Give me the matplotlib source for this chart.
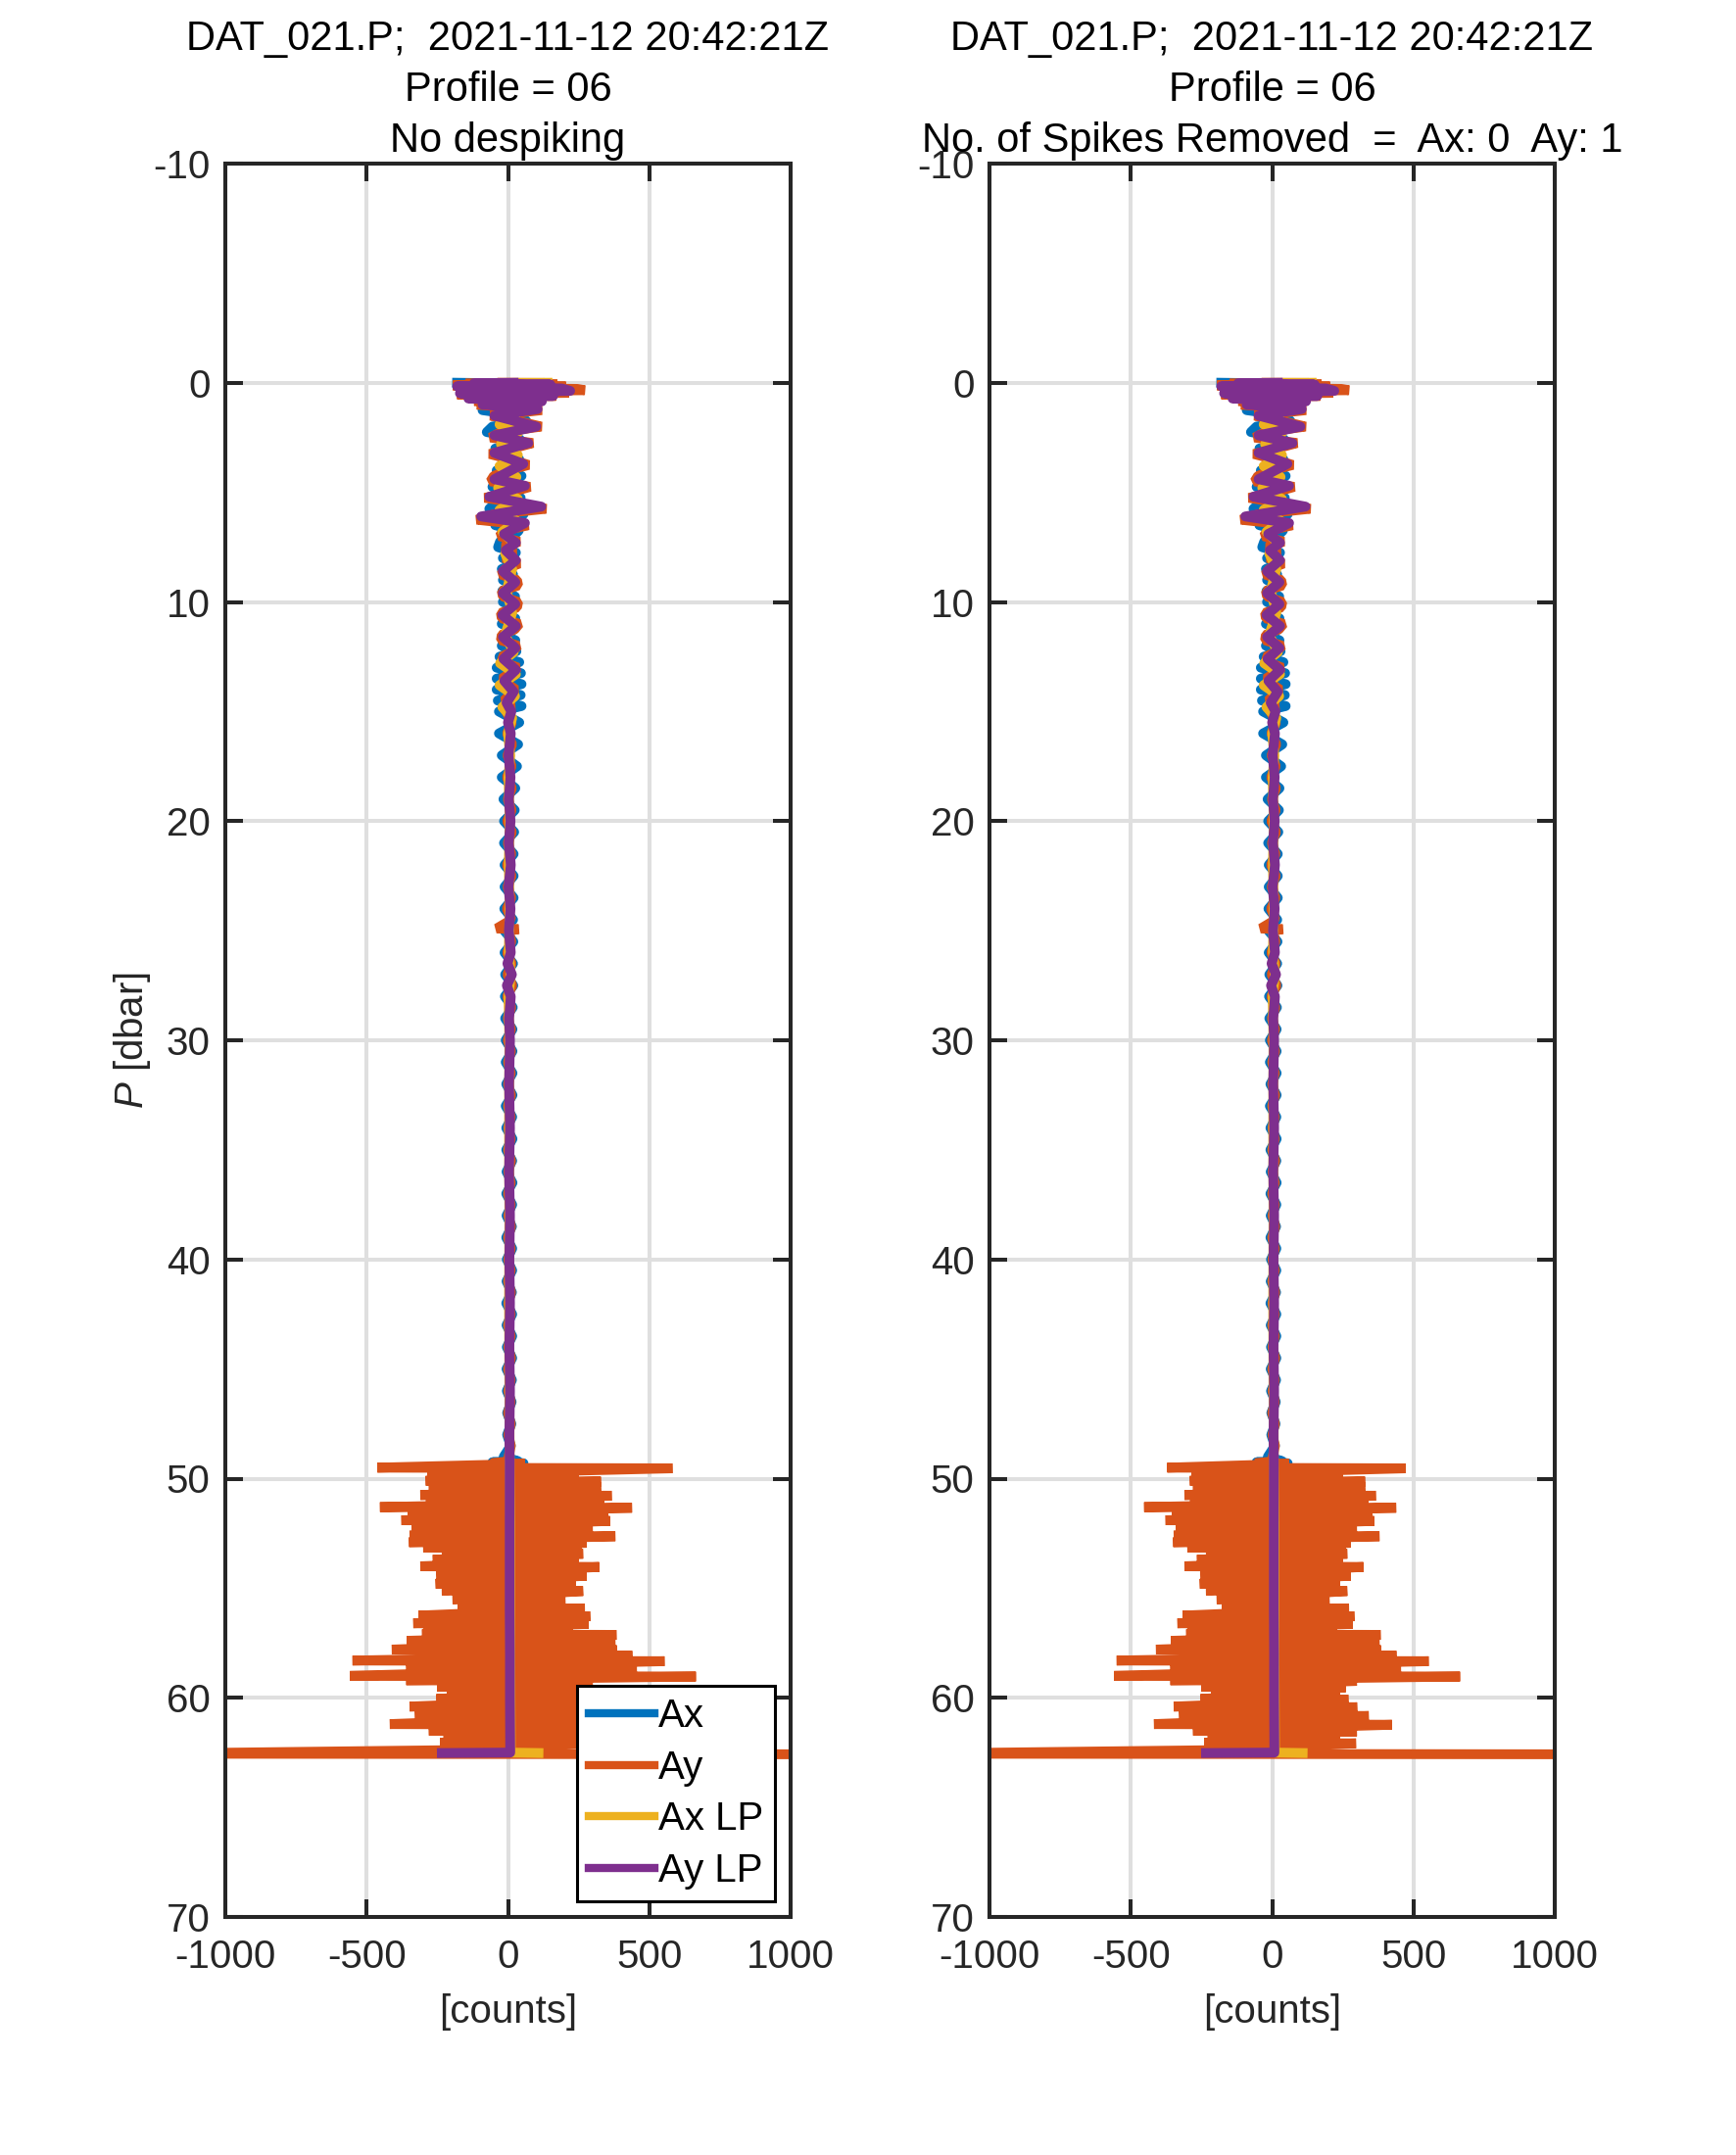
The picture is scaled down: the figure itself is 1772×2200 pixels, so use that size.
import numpy as np
import matplotlib.pyplot as plt

plt.rcParams['font.family'] = ['Liberation Sans', 'DejaVu Sans']
plt.rcParams['mathtext.fontset'] = 'custom'
plt.rcParams['mathtext.it'] = 'Liberation Sans:italic'
plt.rcParams['mathtext.rm'] = 'Liberation Sans'
plt.rcParams['axes.unicode_minus'] = False

# ---- data (pressure in dbar, acceleration in counts) ----

# shared depth grids for the raw Ax / Ay traces
p_fine = [1.0, 1.25, 1.5, 1.75, 2.0, 2.25, 2.5, 2.75,
          3.0, 3.25, 3.5, 3.75, 4.0, 4.25, 4.5, 4.75,
          5.0, 5.25, 5.5, 5.75, 6.0, 6.25, 6.5, 6.75,
          7.0, 7.25, 7.5, 7.75, 8.0, 8.25, 8.5, 8.75,
          9.0, 9.25, 9.5, 9.75, 10.0, 10.25, 10.5, 10.75,
          11.0, 11.25, 11.5, 11.75, 12.0, 12.25, 12.5, 12.75,
          13.0, 13.25, 13.5, 13.75, 14.0, 14.25, 14.5, 14.75,
          15.0]
p_coarse = [15.5, 16.0, 16.5, 17.0, 17.5, 18.0, 18.5, 19.0,
            19.5, 20.0, 20.5, 21.0, 21.5, 22.0, 22.5, 23.0,
            23.5, 24.0, 24.5, 25.0, 25.5, 26.0, 26.5, 27.0,
            27.5, 28.0, 28.5, 29.0, 29.5, 30.0, 30.5, 31.0,
            31.5, 32.0, 32.5, 33.0, 33.5, 34.0, 34.5, 35.0,
            35.5, 36.0, 36.5, 37.0, 37.5, 38.0, 38.5, 39.0,
            39.5, 40.0, 40.5, 41.0, 41.5, 42.0, 42.5, 43.0,
            43.5, 44.0, 44.5, 45.0, 45.5, 46.0, 46.5, 47.0,
            47.5, 48.0, 48.5, 49.0]

# Ax raw
ax_blob_p = [0.00, 0.05, 0.10, 0.18, 0.26, 0.34, 0.42, 0.50, 0.60, 0.70, 0.80, 0.90]
ax_blob_v = [-180, 105, -165, 135, -155, 185, -145, 155, -135, 115, -105, 75]
ax_fine_v = [-65, -90, 45, 65, -55, -75, 35, 55,
             -45, -28, 40, 28, -40, 48, 18, -55,
             8, 45, -45, -66, 55, 28, -45, 38,
             18, -28, -35, 28, -18, 24, -22, 18,
             -18, 22, -20, 25, -18, 22, -18, 26,
             -22, 22, -18, 26, -22, 30, -30, 40,
             -40, 46, -40, 48, -40, 45, -36, 48,
             -32]
ax_coarse_v = [40, -32, 36, -22, 32, -22, 26, -16,
               24, -14, 22, -14, 20, -12, 20, -12,
               20, -13, 18, -13, 19, -12, 18, -10,
               19, -11, 17, -10, 16, -8, 16, -8,
               16, -6, 16, -8, 15, -6, 16, -6,
               15, -5, 16, -6, 15, -5, 14, -6,
               15, -4, 15, -5, 14, -6, 15, -5,
               15, -4, 15, -5, 14, -4, 13, -3,
               12, -3, 10, -15]
ax_tail_p = [49.2, 49.25, 49.3, 49.4, 50, 51, 52, 53, 54, 55, 56, 57, 58, 59, 60, 61, 62, 62.5]
ax_tail_v = [35, -55, 55, -10, 15, -15, 15, -15, 15, -15, 15, -15, 15, -15, 15, -15, 15, 10]

# Ay raw
ay_blob_p = [0.00, 0.01, 0.04, 0.08, 0.12, 0.17, 0.22, 0.28, 0.34,
             0.40, 0.46, 0.53, 0.60, 0.67, 0.75, 0.83, 0.91]
ay_blob_v = [-20, 130, -150, 175, -195, 205, -185, 245, 272,
             -175, 215, -180, 170, -140, 130, -120, 110]
ay_fine_v = [-110, 120, -62, 35, 118, -25, -62, 88,
             15, -65, 10, 73, 0, -50, -62, 78,
             10, -82, 35, 135, -50, -110, 72, -15,
             -30, 40, -18, 25, -15, 40, -10, -25,
             32, 36, -22, -18, 36, 32, -25, -22,
             40, 24, -22, -25, 36, 16, -22, -14,
             36, 8, -22, 0, 28, 4, -14, 16,
             -6]
ay_coarse_v = [14, -3, 15, -2, 13, -4, 14, -1,
               13, -3, 14, -1, 12, -4, 13, -2,
               12, -4, 12, 2, 12, -3, 13, -2,
               16, -3, 12, -1, 11, -1, 11, 0,
               10, 0, 11, 0, 10, 1, 10, 0,
               11, 1, 10, 0, 10, 1, 11, 0,
               10, 1, 10, 0, 11, 1, 10, 0,
               10, 1, 11, 0, 10, 1, 10, 0,
               10, 1, 10, 2]
ay_spike_p = [24.90, 24.93, 49.2]
ay_spike_v = [-40, 38, 8]

# Ay noisy band below 49 dbar: left and right extremes per level
band_p = [49.30, 49.50, 49.80, 50.10, 50.35, 50.75, 51.05, 51.30, 51.60, 51.90,
          52.25, 52.60, 52.90, 53.15, 53.40, 53.70, 54.00, 54.40, 54.80, 55.10,
          55.50, 55.90, 56.25, 56.60, 56.85, 57.10, 57.40, 57.80, 58.05, 58.30,
          58.60, 59.00, 59.20, 59.50, 59.70, 60.05, 60.40, 60.80, 61.20, 61.50,
          61.75, 62.05, 62.30, 62.55]
band_left = [-60, -462, -285, -291, -280, -310, -290, -453, -354, -377,
             -340, -348, -350, -300, -234, -266, -310, -253, -256, -234,
             -196, -177, -316, -335, -300, -304, -358, -411, -300, -550,
             -360, -559, -360, -250, -215, -253, -348, -329, -418, -280,
             -228, -240, -200, -1300]
band_right = [60, 582, 250, 329, 329, 367, 340, 439, 354, 361,
              300, 380, 278, 260, 266, 250, 323, 278, 240, 266,
              203, 272, 291, 285, 230, 384, 380, 386, 440, 554,
              456, 665, 300, 260, 240, 270, 301, 342, 424, 300,
              240, 297, 200, 1300]
# the one spike removed by the despiker (level index 1)
despiked_index = 1
despiked_left, despiked_right = -371, 472

# Ax LP
axlp_p = [0.0, 0.01, 0.1, 0.3, 0.6, 1.0, 1.4, 1.9, 2.3, 2.8,
          3.3, 3.8, 4.3, 4.8, 5.3, 5.8, 6.3, 6.8, 7.3, 7.8,
          8.5, 9.5, 10.5, 11.5, 12.3, 12.8, 13.3, 13.8, 14.3, 14.8,
          15.3, 16, 17, 18, 20, 22, 24, 26, 27, 28,
          30, 34, 38, 42, 46, 49.2, 52, 56, 60, 62.5, 62.52]
axlp_v = [140, -10, 100, -80, 60, -40, 30, -30, 35, -25,
          35, -30, 30, -35, 35, -30, 30, -20, 20, -10,
          15, -5, 15, -10, 20, -28, 28, -30, 25, -20,
          15, 0, 8, 2, 6, 3, 6, 3, 10, 2,
          5, 4, 5, 4, 5, 6, 8, 8, 9, 10, 108]

# Ay LP
aylp_p = [0.0, 0.02, 0.08, 0.16, 0.26, 0.37, 0.48, 0.6, 0.72, 0.85,
          1.0, 1.2, 1.5, 2.0, 2.4, 2.75, 3.2, 3.7, 4.4, 4.7,
          5.2, 5.65, 6.1, 6.4, 6.9, 7.3, 7.65, 8.1, 8.6, 9.1,
          9.6, 10.1, 10.6, 11.1, 11.6, 12.1, 12.6, 13.1, 13.6, 14.1,
          14.6, 15.0, 15.5, 16, 17, 18, 19, 20, 21, 22,
          23, 24, 25, 26, 26.5, 27, 27.5, 28, 29, 30,
          32, 34, 36, 38, 40, 42, 44, 46, 48, 49.2,
          50, 52, 54, 56, 58, 60, 62.5, 62.52]
aylp_v = [20, -120, 150, -180, 190, 220, -170, 160, -140, 120,
          -90, 105, -48, 100, -48, 72, -48, 54, -48, 60,
          -66, 118, -95, 60, -14, 28, -8, 28, -18, 26,
          -18, 26, -20, 28, -18, 26, -16, 28, -13, 20,
          -5, 12, 0, 10, 2, 9, 3, 9, 3, 10,
          2, 9, 3, 10, -2, 14, -4, 10, 4, 7,
          4, 7, 4, 7, 5, 7, 5, 7, 5, 6,
          6, 6, 6, 6, 7, 7, 8, -234]

title_head = 'DAT_021.P;  2021-11-12 20:42:21Z\nProfile = 06\n'
titles = ['No despiking', 'No. of Spikes Removed  =  Ax: 0  Ay: 1']

# ---- styling ----
FS = 29
FS_TITLE = 30
LW = 7.2
INK = '#262626'
C_AX, C_AY, C_AXLP, C_AYLP = '#0072BD', '#D95319', '#EDB120', '#7E2F8E'


def ay_trace(left, right):
    # band levels zigzag left -> right, then merge with the upper trace by depth
    bp = np.array(band_p)
    zig_p = np.column_stack([bp, bp + 0.03]).ravel()
    zig_v = np.column_stack([left, right]).ravel()
    p = np.concatenate([ay_blob_p, p_fine, p_coarse, ay_spike_p, zig_p])
    v = np.concatenate([ay_blob_v, ay_fine_v, ay_coarse_v, ay_spike_v, zig_v])
    order = np.argsort(p, kind='stable')
    return p[order], v[order]


ax_p = ax_blob_p + p_fine + p_coarse + ax_tail_p
ax_v = ax_blob_v + ax_fine_v + ax_coarse_v + ax_tail_v

fig = plt.figure(figsize=(17.72, 22.0), dpi=100)
W, H = 1772, 2200
axes = [fig.add_axes([230 / W, 1 - 1957 / H, 577 / W, 1790 / H]),
        fig.add_axes([1010 / W, 1 - 1957 / H, 577 / W, 1790 / H])]

for i, ax in enumerate(axes):
    left, right = list(band_left), list(band_right)
    if i == 1:
        left[despiked_index] = despiked_left
        right[despiked_index] = despiked_right
    ay_p, ay_v = ay_trace(left, right)

    ax.plot(ax_v, ax_p, color=C_AX, lw=LW, label='Ax')
    ax.plot(ay_v, ay_p, color=C_AY, lw=LW, label='Ay', solid_joinstyle='bevel')
    ax.plot(axlp_v, axlp_p, color=C_AXLP, lw=LW, label='Ax LP')
    ax.plot(aylp_v, aylp_p, color=C_AYLP, lw=LW, label='Ay LP')

    ax.set_xlim(-1000, 1000)
    ax.set_ylim(70, -10)
    ax.set_xticks([-1000, -500, 0, 500, 1000])
    ax.set_yticks(range(-10, 71, 10))
    ax.grid(True, color='#dfdfdf', linewidth=2.9)
    ax.set_axisbelow(True)
    ax.tick_params(direction='in', length=13, width=2.9, color=INK,
                   labelcolor=INK, labelsize=FS, top=True, right=True)
    ax.tick_params(axis='y', pad=11)
    ax.tick_params(axis='x', pad=16)
    for s in ax.spines.values():
        s.set_linewidth(2.9)
        s.set_color(INK)

    ax.set_title(title_head + titles[i], fontsize=FS_TITLE, color='black',
                 pad=9, linespacing=1.38)
    ax.set_xlabel('[counts]', fontsize=FS, color=INK, labelpad=13)

axes[0].set_ylabel('$P$ [dbar]', fontsize=FS, color=INK, labelpad=0)

leg = axes[0].legend(loc='lower right', bbox_to_anchor=(0.9723, 0.0089),
                     fontsize=FS, frameon=True, fancybox=False, framealpha=1,
                     edgecolor='black', borderpad=0.3, labelspacing=0.36,
                     handlelength=1.65, handletextpad=0.1, borderaxespad=0)
leg.get_frame().set_linewidth(2.2)
for line in leg.get_lines():
    line.set_linewidth(6)

fig.savefig('out.png', dpi=100)
